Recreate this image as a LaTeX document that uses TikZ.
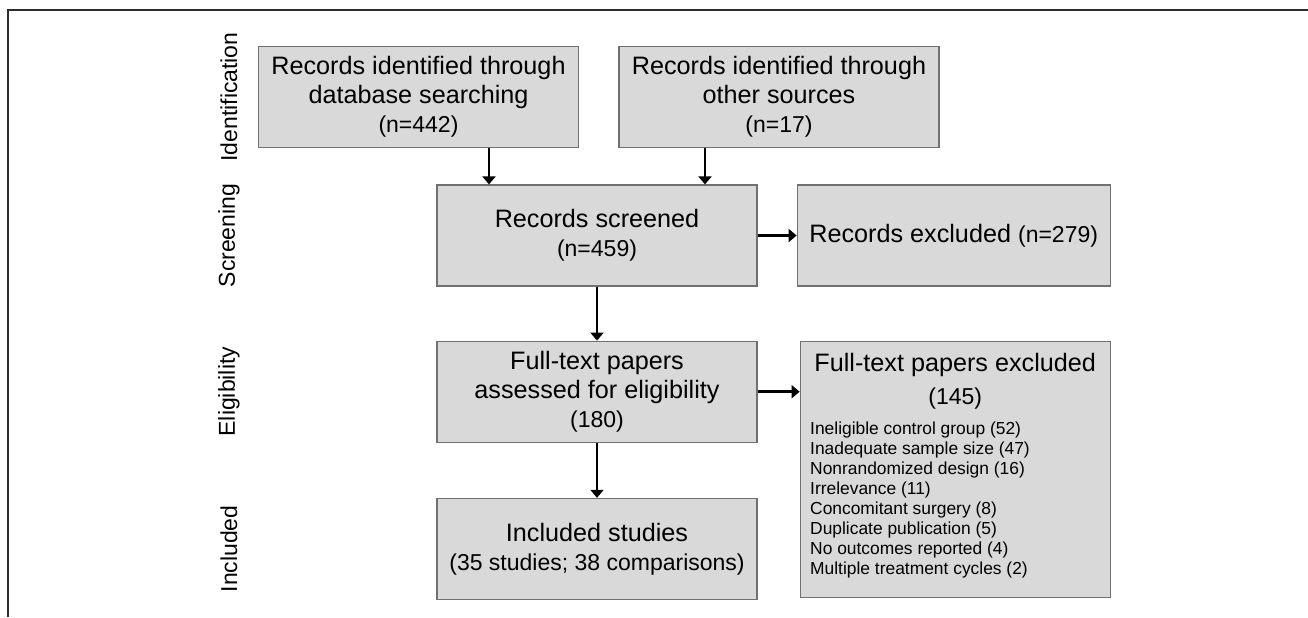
\documentclass[tikz,border=0pt]{standalone}
\usepackage{fontspec}
\setmainfont{Liberation Sans}
\usepackage{xcolor}
\usetikzlibrary{positioning,arrows.meta,calc}
\definecolor{boxfill}{RGB}{217,217,217}
\definecolor{boxline}{RGB}{112,112,112}
\definecolor{frameline}{RGB}{45,45,45}
\newcommand{\cntfont}{\fontsize{11.5}{14.5}\selectfont}
\newcommand{\listfont}{\fontsize{8.7}{10}\selectfont}

\begin{document}
\begin{tikzpicture}[x=0.5pt, y=-0.5pt, >={Triangle[width=6.5pt,length=4pt]}]
\tikzstyle{flowbox}=[draw=boxline, line width=0.6pt, fill=boxfill, minimum width=160pt, minimum height=50.5pt, inner sep=2pt, align=center, font=\fontsize{12.6}{14.5}\selectfont]
\tikzstyle{mainbox}=[flowbox, execute at begin node={\rule{0pt}{13pt}}]
\tikzstyle{phase}=[rotate=90, font=\fontsize{11.5}{13}\selectfont]
\tikzstyle{flow}=[->, line width=1.3pt]
\useasboundingbox (0,0) rectangle (1308,617);

% frame
\draw[frameline, line width=0.7pt] (8,617) -- (8,10) -- (1308,10);

% identification
\node[mainbox] (db)    at (418.5,97) {Records identified through\\database searching\\{\cntfont(n=442)}};
\node[mainbox] (other) at (779,97)   {Records identified through\\other sources\\{\cntfont(n=17)}};

% screening
\node[mainbox] (screened) at (597,235.5) {Records screened\\{\cntfont(n=459)}};
\node[flowbox, minimum width=156.5pt] (recexcl) [right=19.5pt of screened] {Records excluded {\cntfont(n=279)}};

% eligibility
\node[mainbox] (fulltext) [below=27pt of screened] {Full-text papers\\assessed for eligibility\\{\cntfont(180)}};
\node[flowbox, minimum width=155pt, minimum height=128pt] (fullexcl) [below right=0pt and 21pt of fulltext.north east]
  {Full-text papers excluded\\[2pt]{\cntfont(145)}\\[0.5pt]\parbox[t]{145pt}{\raggedright\listfont
   Ineligible control group (52)\\
   Inadequate sample size (47)\\
   Nonrandomized design (16)\\
   Irrelevance (11)\\
   Concomitant surgery (8)\\
   Duplicate publication (5)\\
   No outcomes reported (4)\\
   Multiple treatment cycles (2)\rule[-5pt]{0pt}{0pt}}};

% included
\node[mainbox] (included) [below=27.5pt of fulltext] {Included studies\\{\cntfont(35 studies; 38 comparisons)}};

% phase labels
\coordinate (phasex) at (229,0);
\node[phase] (identlab)  at (phasex |- db)       {Identification};
\node[phase] (screenlab) at (phasex |- screened) {Screening};
\node[phase] (eliglab)   at (phasex |- fulltext) {Eligibility};
\node[phase] (incllab)   at (phasex |- included) {Included};

% connectors
\coordinate (in1) at ($(screened.north)+(-54pt,0)$);
\coordinate (in2) at ($(screened.north)+(54pt,0)$);
\draw[flow] (db.south -| in1) -- (in1);
\draw[flow] (other.south -| in2) -- (in2);
\draw[flow] (screened) -- (recexcl);
\draw[flow] (screened) -- (fulltext);
\draw[flow] (fulltext.east) -- (fulltext.east -| fullexcl.west);
\draw[flow] (fulltext) -- (included);
\end{tikzpicture}
\end{document}
